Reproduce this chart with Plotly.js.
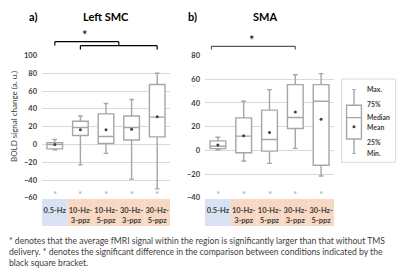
<!DOCTYPE html>
<html><head><meta charset="utf-8">
<script src="https://cdn.plot.ly/plotly-3.0.1.min.js"></script>
<style>html,body{margin:0;padding:0;background:#fff}#chart{width:400px;height:277px}</style>
</head><body><div id="chart"></div>
<script>
// ---- data ----
const categories = ['0.5-Hz', '10-Hz-3-ppz', '10-Hz-5-ppz', '30-Hz-3-ppz', '30-Hz-5-ppz'];
const tickLabels = ['0.5-Hz', '10-Hz-<br>3-ppz', '10-Hz-<br>5-ppz', '30-Hz-<br>3-ppz', '30-Hz-<br>5-ppz'];

const smcMin    = [-6, -23, -10, -39, -50];
const smcQ1     = [-5, 10, 1, 5, 8.5];
const smcMedian = [0, 19, 9, 19, 30.7];
const smcQ3     = [2, 26, 34.4, 32, 67.4];
const smcMax    = [5.5, 32, 46, 50.5, 80];
const smcMean   = [0, 16.4, 16.4, 17, 31];

const smaMin    = [0.5, -9, -11, 1.7, -21.6];
const smaQ1     = [1.5, -2, -0.6, 18.5, -12.6];
const smaMedian = [3.5, 12, 9.2, 27.7, 41.4];
const smaQ3     = [8, 27.4, 33.9, 55.4, 55.4];
const smaMax    = [11, 41.4, 51.2, 63.8, 64.7];
const smaMean   = [4.5, 12.3, 15.1, 32.4, 26.3];

const legendCat    = ['key'];
const legendMin    = [0];
const legendQ1     = [23];
const legendMedian = [56];
const legendQ3     = [75];
const legendMax    = [100];
const legendMean   = [42];
const legendLabels = ['Max.', '75%', 'Median', 'Mean', '25%', 'Min.'];
const legendLabelPos = [100, 77, 57, 42, 19, 1];

const titleA = 'Left SMC';
const titleB = 'SMA';
const yTitle = 'BOLD signal change (a. u.)';
const footnote = '* denotes that the average fMRI signal within the region is significantly larger than that without TMS<br>delivery. * denotes the significant difference in the comparison between conditions indicated by the<br>black square bracket.';

// ---- styles ----
const FONT = 'Lato, "Liberation Sans", Arial, sans-serif';
const BOXC = '#a6a6a6';
const DARK = '#404040';

function boxTrace(x, mn, q1, md, q3, mx, xa, ya) {
  return {
    type: 'box', x: x, lowerfence: mn, q1: q1, median: md, q3: q3, upperfence: mx,
    xaxis: xa, yaxis: ya, width: 0.61, whiskerwidth: 0.3,
    fillcolor: '#ffffff', line: {color: BOXC, width: 1.4},
    boxpoints: false, hoverinfo: 'skip', showlegend: false
  };
}
function meanTrace(x, m, xa, ya) {
  return {
    type: 'scatter', mode: 'markers', x: x, y: m, xaxis: xa, yaxis: ya,
    marker: {color: DARK, size: 3}, hoverinfo: 'skip', showlegend: false
  };
}

const data = [
  boxTrace(categories, smcMin, smcQ1, smcMedian, smcQ3, smcMax, 'x', 'y'),
  meanTrace(categories, smcMean, 'x', 'y'),
  boxTrace(categories, smaMin, smaQ1, smaMedian, smaQ3, smaMax, 'x2', 'y2'),
  meanTrace(categories, smaMean, 'x2', 'y2'),
  Object.assign(boxTrace(legendCat, legendMin, legendQ1, legendMedian, legendQ3, legendMax, 'x3', 'y3'), {width: 0.62}),
  meanTrace(legendCat, legendMean, 'x3', 'y3')
];

const py = v => 1 - v / 277;
const yTop = py(55.5), yBot = py(197.8);

const xCommon = {
  type: 'category', range: [-0.5, 4.5], showgrid: false, zeroline: false, showline: false,
  ticks: '', tickmode: 'array', tickvals: categories, ticktext: tickLabels, tickangle: 0,
  ticklabelstandoff: 7,
  tickfont: {family: FONT, size: 7.5, color: DARK, weight: 'bold'}, fixedrange: true
};
const yCommon = {
  showgrid: true, gridcolor: '#d9d9d9', gridwidth: 1, zeroline: false, showline: false,
  ticks: '', dtick: 20, tickfont: {family: FONT, size: 7.5, color: DARK, weight: 'bold'},
  domain: [yBot, yTop], fixedrange: true, ticklabelstandoff: 4
};

const shapes = [];
const bgColors = ['#d9e2f3', '#f9d8c3', '#f9d8c3', '#f9d8c3', '#f9d8c3'];
['x', 'x2'].forEach(xr => {
  categories.forEach((c, i) => {
    shapes.push({type: 'rect', xref: xr, yref: 'paper', x0: i - 0.5, x1: i + 0.5,
      y0: py(226), y1: py(199), fillcolor: bgColors[i], line: {width: 0}, layer: 'below'});
  });
});
function bracket(xr, xa, xb, yh, yl, col) {
  return [
    {type: 'line', xref: xr, yref: 'paper', x0: xa, x1: xb, y0: py(yh), y1: py(yh), line: {color: col, width: 1.2}},
    {type: 'line', xref: xr, yref: 'paper', x0: xa, x1: xa, y0: py(yh), y1: py(yl), line: {color: col, width: 1.2}},
    {type: 'line', xref: xr, yref: 'paper', x0: xb, x1: xb, y0: py(yh), y1: py(yl), line: {color: col, width: 1.2}}
  ];
}
shapes.push(...bracket('x', 0, 2.5, 41.7, 45.5, '#000000'));
shapes.push(...bracket('x', 1, 4, 45.7, 49.5, '#000000'));
shapes.push(...bracket('x2', -0.25, 3, 46.3, 49.5, '#595959'));
// legend frame
shapes.push({type: 'rect', xref: 'paper', yref: 'paper', x0: 341.7 / 400, x1: 395.7 / 400,
  y0: py(162.3), y1: py(79), line: {color: '#d9d9d9', width: 1}, fillcolor: 'rgba(0,0,0,0)'});

const annotations = [];
['x', 'x2'].forEach(xr => {
  categories.forEach(c => {
    annotations.push({xref: xr, yref: 'paper', x: c, y: py(194), text: '*', showarrow: false,
      xanchor: 'center', yanchor: 'middle', font: {family: FONT, size: 10, color: BOXC}});
  });
});
function pAnn(x, y, text, size, extra) {
  return Object.assign({xref: 'paper', yref: 'paper', x: x / 400, y: py(y), text: text, showarrow: false,
    xanchor: 'center', yanchor: 'middle', font: {family: FONT, size: size, color: '#000'}}, extra || {});
}
annotations.push(
  pAnn(32.5, 16.7, '<b>a)</b>', 11),
  pAnn(106, 16.7, '<b>' + titleA + '</b>', 11),
  pAnn(192, 16.7, '<b>b)</b>', 11),
  pAnn(265, 16.7, '<b>' + titleB + '</b>', 11),
  pAnn(85, 35, '*', 13),
  pAnn(251.7, 40, '*', 13),
  pAnn(14, 117, yTitle, 8, {textangle: -90, font: {family: FONT, size: 8, color: DARK}}),
  pAnn(7, 233.5, footnote, 8.6, {xanchor: 'left', yanchor: 'top', align: 'left',
    font: {family: FONT, size: 8.6, color: DARK}})
);
legendLabels.forEach((t, i) => {
  annotations.push({xref: 'paper', yref: 'y3', x: 365 / 400, y: legendLabelPos[i], text: '<b>' + t + '</b>',
    showarrow: false, xanchor: 'left', yanchor: 'middle', font: {family: FONT, size: 6.8, color: DARK}});
});

const layout = {
  width: 400, height: 277, margin: {l: 0, r: 0, t: 0, b: 0},
  paper_bgcolor: '#ffffff', plot_bgcolor: 'rgba(0,0,0,0)', showlegend: false,
  font: {family: FONT, color: DARK},
  xaxis: Object.assign({}, xCommon, {domain: [42 / 400, 170 / 400], anchor: 'y'}),
  yaxis: Object.assign({}, yCommon, {range: [-60, 100], anchor: 'x'}),
  xaxis2: Object.assign({}, xCommon, {domain: [205 / 400, 334 / 400], anchor: 'y2'}),
  yaxis2: Object.assign({}, yCommon, {range: [-40, 80], anchor: 'x2'}),
  xaxis3: {type: 'category', domain: [342 / 400, 366 / 400], range: [-0.5, 0.5], anchor: 'y3',
    showticklabels: false, showgrid: false, zeroline: false, showline: false, ticks: ''},
  yaxis3: {domain: [py(154), py(89)], range: [0, 100], anchor: 'x3', showticklabels: false,
    showgrid: false, zeroline: false, showline: false, ticks: ''},
  shapes: shapes, annotations: annotations
};

Plotly.newPlot('chart', data, layout, {staticPlot: true, displayModeBar: false});
</script>
</body></html>
